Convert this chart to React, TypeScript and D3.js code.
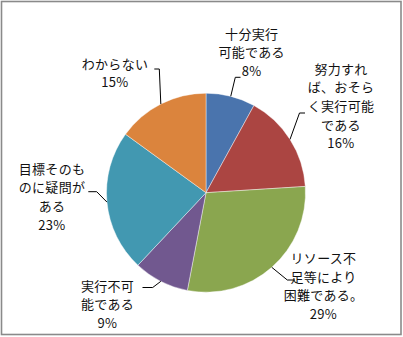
import React from 'react';
import * as d3 from 'd3';

const categories = [
  '十分実行可能である',
  '努力すれば、おそらく実行可能である',
  'リソース不足等により困難である。',
  '実行不可能である',
  '目標そのものに疑問がある',
  'わからない',
];
const values = [8, 16, 29, 9, 23, 15];
const labelLines = [
  ['十分実行', '可能である'],
  ['努力すれ', 'ば、おそら', 'く実行可能', 'である'],
  ['リソース不', '足等により', '困難である。'],
  ['実行不可', '能である'],
  ['目標そのも', 'のに疑問が', 'ある'],
  ['わからない'],
];
const colors = ['#4a74ad', '#ab4542', '#8aa64f', '#71588f', '#4298b1', '#db843d'];

// label layout (positions of label blocks and leader elbows)
const labelLayout = [
  { x: 251.7, y: 33.3, ex: 235.3, ey: 77.3, hx: 240.5 },
  { x: 341, y: 68.3, ex: 299.5, ey: 113, hx: 305 },
  { x: 323.5, y: 257.7, ex: 287.3, ey: 280, hx: 295 },
  { x: 107.5, y: 285, ex: 152.7, ey: 287.5, hx: 142.5 },
  { x: 52, y: 168.3, ex: 96.7, ey: 191.7, hx: 88.3 },
  { x: 115, y: 63.3, ex: 159.3, ey: 69, hx: 154.3 },
];

const W = 403;
const H = 337;
const CX = 206;
const CY = 192.7;
const R = 99.5;
const LH = 18.6;

export default function App() {
  const data = categories.map((c, i) => ({ c, v: values[i], i }));
  const pie = d3.pie<any>().value((d) => d.v).sort(null);
  const arcs = pie(data);
  const arc = d3.arc<any>().innerRadius(0).outerRadius(R);

  return (
    <svg width={W} height={H} style={{ position: 'absolute', left: 0, top: 0, background: '#fff' }}
      fontFamily="'Noto Sans CJK JP', sans-serif">
      <rect x={0} y={0} width={W} height={H} fill="#fff" />
      <rect x={1.5} y={1.5} width={399.5} height={333} fill="none" stroke="#8a8a8a" strokeWidth={1.6} />
      <g transform={`translate(${CX},${CY})`}>
        {arcs.map((a, i) => (
          <path key={i} d={arc(a) || ''} fill={colors[i]} stroke="#ffffff" strokeWidth={0.6} strokeOpacity={0.7} />
        ))}
      </g>
      {arcs.map((a, i) => {
        const mid = (a.startAngle + a.endAngle) / 2;
        const sx = CX + R * Math.sin(mid);
        const sy = CY - R * Math.cos(mid);
        const L = labelLayout[i];
        return (
          <polyline key={'l' + i} points={`${sx},${sy} ${L.ex},${L.ey} ${L.hx},${L.ey}`}
            fill="none" stroke="#000" strokeWidth={1} />
        );
      })}
      {arcs.map((a, i) => {
        const L = labelLayout[i];
        const lines = [...labelLines[i], `${values[i]}%`];
        return (
          <text key={'t' + i} textAnchor="middle" fontSize={13} fill="#111" letterSpacing={0.3}>
            {lines.map((ln, j) => (
              <tspan key={j} x={L.x} y={L.y + j * LH} dominantBaseline="central">{ln}</tspan>
            ))}
          </text>
        );
      })}
    </svg>
  );
}
